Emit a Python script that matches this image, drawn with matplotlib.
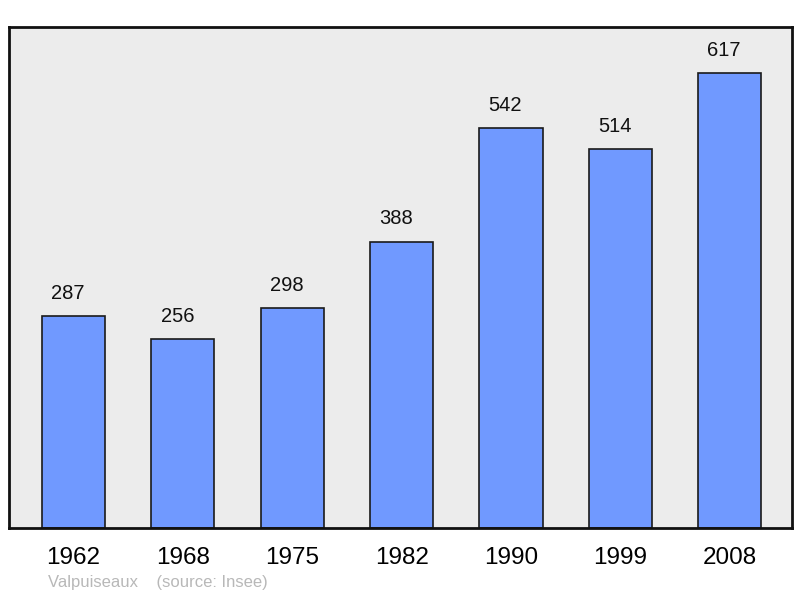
import matplotlib
matplotlib.use("Agg")
import matplotlib.pyplot as plt
import numpy as np

# 数据
years = ["1962", "1968", "1975", "1982", "1990", "1999", "2008"]
population = [287, 256, 298, 388, 542, 514, 617]

plt.rcParams['font.family'] = ['Liberation Sans', 'DejaVu Sans']

fig = plt.figure(figsize=(8, 5.98), dpi=100)
# 坐标轴位置 (像素换算)
ax = fig.add_axes([9 / 800, 1 - 528 / 598, 783 / 800, 501 / 598])
ax.set_facecolor("#ececec")

x = np.arange(len(years))
ax.bar(x, population, width=0.577, color="#7099ff", edgecolor="#1a1a1a", linewidth=1.2, zorder=2)

# 柱顶数值标签
for xi, v in zip(x, population):
    ax.text(xi - 0.05, v + 31, str(v), ha="center", va="center", fontsize=14.5, color="#111111")

ax.set_xlim(-0.59, 6.57)
ax.set_ylim(0, 679.3)
ax.set_xticks(x)
ax.set_xticklabels(years, fontsize=17.5)
ax.tick_params(axis="x", length=0, pad=14)
ax.set_yticks([])
for s in ax.spines.values():
    s.set_linewidth(2)
    s.set_color("#111111")

fig.text(48 / 800, 1 - 583 / 598, "Valpuiseaux    (source: Insee)", fontsize=12,
         color="#b8b8b8", ha="left", va="center")

plt.savefig("out.png", dpi=100)
